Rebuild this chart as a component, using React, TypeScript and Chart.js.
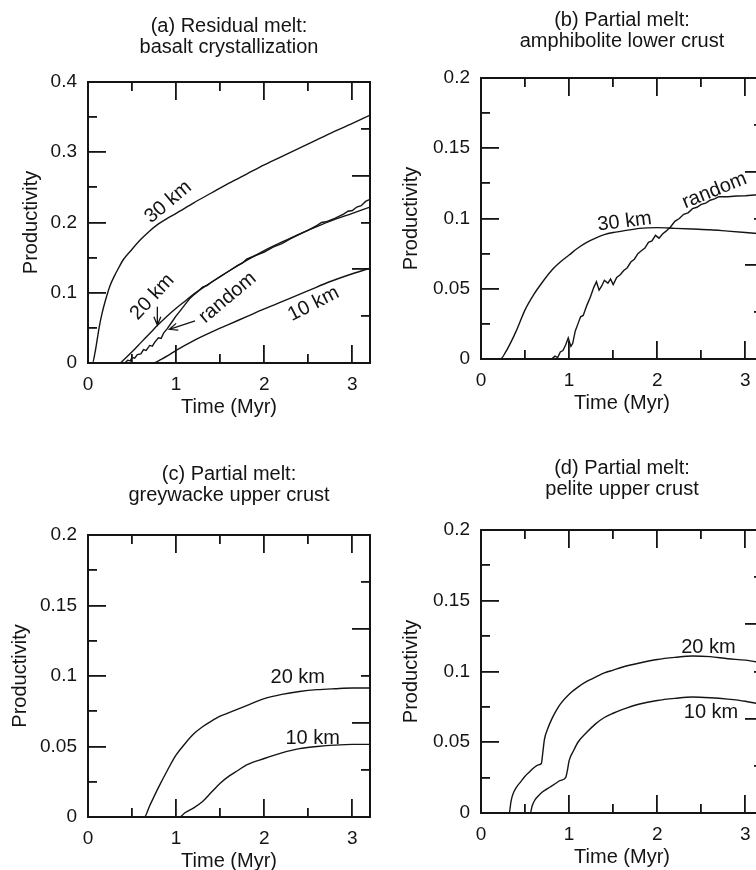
import React, { useEffect, useRef } from 'react';
import { Chart, registerables } from 'chart.js';

Chart.register(...registerables);

const FONT = '"Liberation Sans", Arial, Helvetica, sans-serif';
const INK = '#141414';

// ---------- axes ----------
const TIME_MAX = 3.2;
const TIME_MAJOR = [0, 1, 2, 3];
const TIME_MINOR = [0.5, 1.5, 2.5];
const TIME_LABELS = ['0', '1', '2', '3'];

const RIGHT_MAX = 3;
const RIGHT_MAJOR = [0, 1, 2, 3];
const RIGHT_MINOR = [0.5, 1.5, 2.5];

const PROD_A_MAX = 0.4;
const PROD_A_MAJOR = [0, 0.1, 0.2, 0.3, 0.4];
const PROD_A_LABELS = ['0', '0.1', '0.2', '0.3', '0.4'];
const PROD_A_MINOR = [0.05, 0.15, 0.25, 0.35];

const PROD_MAX = 0.2;
const PROD_MAJOR = [0, 0.05, 0.1, 0.15, 0.2];
const PROD_LABELS = ['0', '0.05', '0.1', '0.15', '0.2'];
const PROD_MINOR = [0.025, 0.075, 0.125, 0.175];

// ---------- titles ----------
const TITLE_A = ['(a) Residual melt:', 'basalt crystallization'];
const TITLE_B = ['(b) Partial melt:', 'amphibolite lower crust'];
const TITLE_C = ['(c) Partial melt:', 'greywacke upper crust'];
const TITLE_D = ['(d) Partial melt:', 'pelite upper crust'];
const X_TITLE = 'Time (Myr)';
const Y_TITLE = 'Productivity';

// ---------- data: [time (Myr), productivity] ----------
const A_30KM: [number, number][] = [
  [0, 0], [0.05, 0], [0.08, 0.015], [0.1, 0.03], [0.13, 0.053], [0.16, 0.071], [0.2, 0.09],
  [0.25, 0.11], [0.3, 0.124], [0.35, 0.136], [0.4, 0.147], [0.5, 0.162], [0.6, 0.176],
  [0.7, 0.188], [0.8, 0.198], [0.9, 0.206], [1.0, 0.213], [1.2, 0.228], [1.4, 0.242],
  [1.6, 0.256], [1.8, 0.269], [2.0, 0.282], [2.25, 0.297], [2.5, 0.312], [2.75, 0.327],
  [3.0, 0.341], [3.2, 0.353],
];
const A_20KM: [number, number][] = [
  [0, 0], [0.36, 0], [0.4, 0.004], [0.5, 0.016], [0.6, 0.029], [0.7, 0.042], [0.8, 0.055],
  [0.9, 0.067], [1.0, 0.078], [1.1, 0.088], [1.2, 0.098], [1.4, 0.115], [1.6, 0.131],
  [1.8, 0.146], [2.0, 0.16], [2.25, 0.175], [2.5, 0.189], [2.75, 0.202], [3.0, 0.213], [3.2, 0.222],
];
const A_RANDOM: [number, number][] = [
  [0, 0], [0.42, 0], [0.45, 0.004], [0.48, 0.003], [0.5, 0.008], [0.53, 0.007], [0.56, 0.012],
  [0.6, 0.013], [0.63, 0.019], [0.66, 0.018], [0.7, 0.025], [0.73, 0.024], [0.76, 0.03],
  [0.8, 0.036], [0.83, 0.035], [0.86, 0.043], [0.9, 0.049], [0.95, 0.058], [1.0, 0.067],
  [1.05, 0.075], [1.1, 0.083], [1.15, 0.091], [1.2, 0.097], [1.25, 0.102], [1.3, 0.108],
  [1.35, 0.11], [1.4, 0.115], [1.5, 0.123], [1.6, 0.131], [1.7, 0.139], [1.75, 0.142],
  [1.8, 0.148], [1.9, 0.153], [2.0, 0.158], [2.1, 0.165], [2.2, 0.17], [2.3, 0.177],
  [2.4, 0.183], [2.5, 0.189], [2.6, 0.196], [2.65, 0.2], [2.7, 0.201], [2.8, 0.206],
  [2.9, 0.212], [2.95, 0.216], [3.0, 0.217], [3.05, 0.222], [3.1, 0.224], [3.15, 0.23], [3.2, 0.233],
];
const A_10KM: [number, number][] = [
  [0, 0], [0.74, 0], [0.8, 0.003], [0.9, 0.01], [1.0, 0.018], [1.2, 0.032], [1.4, 0.044],
  [1.6, 0.055], [1.8, 0.066], [2.0, 0.077], [2.25, 0.09], [2.5, 0.103], [2.75, 0.116],
  [3.0, 0.127], [3.2, 0.135],
];

const B_30KM: [number, number][] = [
  [0, 0], [0.22, 0], [0.28, 0.005], [0.34, 0.012], [0.4, 0.02], [0.5, 0.035], [0.6, 0.046],
  [0.7, 0.055], [0.8, 0.063], [0.9, 0.069], [1.0, 0.074], [1.1, 0.079], [1.2, 0.083],
  [1.3, 0.086], [1.4, 0.0885], [1.5, 0.09], [1.6, 0.091], [1.8, 0.093], [2.0, 0.0935],
  [2.2, 0.093], [2.4, 0.0925], [2.6, 0.092], [2.8, 0.091], [3.0, 0.09], [3.2, 0.089],
];
const B_RANDOM: [number, number][] = [
  [0, 0], [0.8, 0], [0.84, 0.002], [0.87, 0.001], [0.9, 0.005], [0.93, 0.006], [0.96, 0.01],
  [0.99, 0.015], [1.02, 0.009], [1.04, 0.011], [1.07, 0.02], [1.1, 0.025], [1.13, 0.03],
  [1.16, 0.031], [1.2, 0.038], [1.24, 0.044], [1.28, 0.051], [1.31, 0.055], [1.34, 0.049],
  [1.37, 0.052], [1.4, 0.056], [1.44, 0.054], [1.47, 0.057], [1.5, 0.053], [1.54, 0.058],
  [1.58, 0.06], [1.62, 0.063], [1.66, 0.065], [1.7, 0.069], [1.74, 0.071], [1.78, 0.075],
  [1.82, 0.077], [1.86, 0.079], [1.9, 0.083], [1.94, 0.084], [1.98, 0.088], [2.02, 0.086],
  [2.06, 0.089], [2.1, 0.091], [2.15, 0.094], [2.2, 0.098], [2.25, 0.1], [2.3, 0.103],
  [2.35, 0.104], [2.4, 0.107], [2.45, 0.108], [2.5, 0.11], [2.55, 0.111], [2.6, 0.113],
  [2.65, 0.114], [2.7, 0.1155], [2.8, 0.1155], [2.9, 0.116], [3.0, 0.1162], [3.1, 0.1167], [3.2, 0.117],
];

const C_20KM: [number, number][] = [
  [0, 0], [0.64, 0], [0.7, 0.008], [0.8, 0.021], [0.9, 0.033], [1.0, 0.044], [1.1, 0.052],
  [1.2, 0.059], [1.3, 0.064], [1.4, 0.068], [1.5, 0.0715], [1.6, 0.074], [1.8, 0.079],
  [2.0, 0.084], [2.2, 0.087], [2.4, 0.089], [2.6, 0.0903], [2.8, 0.091], [3.0, 0.0915], [3.2, 0.0915],
];
const C_10KM: [number, number][] = [
  [0, 0], [1.04, 0], [1.1, 0.003], [1.2, 0.0065], [1.3, 0.011], [1.4, 0.0175], [1.5, 0.024],
  [1.6, 0.029], [1.7, 0.033], [1.8, 0.037], [2.0, 0.0415], [2.2, 0.0455], [2.4, 0.0485],
  [2.6, 0.05], [2.8, 0.051], [3.0, 0.0515], [3.2, 0.0515],
];

const D_20KM: [number, number][] = [
  [0, 0], [0.32, 0], [0.34, 0.008], [0.36, 0.013], [0.4, 0.018], [0.45, 0.022], [0.5, 0.026],
  [0.55, 0.029], [0.6, 0.032], [0.65, 0.034], [0.685, 0.035], [0.7, 0.042], [0.72, 0.052],
  [0.76, 0.06], [0.8, 0.066], [0.85, 0.072], [0.9, 0.077], [1.0, 0.084], [1.1, 0.089],
  [1.2, 0.093], [1.3, 0.096], [1.4, 0.099], [1.5, 0.101], [1.6, 0.103], [1.8, 0.106],
  [2.0, 0.1085], [2.2, 0.11], [2.4, 0.111], [2.6, 0.1105], [2.8, 0.109], [3.0, 0.108], [3.2, 0.106],
];
const D_10KM: [number, number][] = [
  [0, 0], [0.56, 0], [0.58, 0.005], [0.61, 0.009], [0.65, 0.012], [0.7, 0.015], [0.75, 0.017],
  [0.8, 0.019], [0.85, 0.021], [0.9, 0.023], [0.96, 0.025], [0.98, 0.03], [1.0, 0.037],
  [1.05, 0.044], [1.1, 0.05], [1.2, 0.057], [1.3, 0.063], [1.4, 0.0675], [1.5, 0.0705],
  [1.6, 0.073], [1.8, 0.077], [2.0, 0.0795], [2.2, 0.081], [2.4, 0.082], [2.6, 0.0815],
  [2.8, 0.0805], [3.0, 0.079], [3.2, 0.0765],
];

// ---------- curve labels (data coordinates) ----------
type Note = { text: string; t: number; p: number; angle: number };
type Arrow = { from: [number, number]; to: [number, number] };

const NOTES_A: Note[] = [
  { text: '30 km', t: 0.91, p: 0.229, angle: -40 },
  { text: '20 km', t: 0.73, p: 0.094, angle: -47 },
  { text: 'random', t: 1.585, p: 0.093, angle: -40 },
  { text: '10 km', t: 2.56, p: 0.084, angle: -27 },
];
const ARROWS_A: Arrow[] = [
  { from: [0.787, 0.08], to: [0.787, 0.054] },
  { from: [1.215, 0.06], to: [0.923, 0.048] },
];
const NOTES_B: Note[] = [
  { text: '30 km', t: 1.63, p: 0.0977, angle: -7 },
  { text: 'random', t: 2.65, p: 0.1198, angle: -22 },
];
const NOTES_C: Note[] = [
  { text: '20 km', t: 2.38, p: 0.0986, angle: 0 },
  { text: '10 km', t: 2.55, p: 0.056, angle: 0 },
];
const NOTES_D: Note[] = [
  { text: '20 km', t: 2.58, p: 0.117, angle: 0 },
  { text: '10 km', t: 2.61, p: 0.0707, angle: 0 },
];

// ---------- layout ----------
const CANVAS_W = 400;
const LEFT_W = 88;
const PLOT_W = 282;
const TOP_H = 82;
const BOTTOM_H = 70;
const TITLE_LH = 21.5;

type PanelCfg = {
  key: string;
  title: string[];
  left: number;
  top: number;
  plotH: number;
  titleGap: number;
  yTitlePad: number;
  yMax: number;
  yMajor: number[];
  yLabels: string[];
  yMinor: number[];
  series: { data: [number, number][]; smooth: boolean }[];
  notes: Note[];
  arrows: Arrow[];
};

const PANELS: PanelCfg[] = [
  {
    key: 'a', title: TITLE_A, left: 0, top: 0, plotH: 281, titleGap: 56, yTitlePad: 19.5,
    yMax: PROD_A_MAX, yMajor: PROD_A_MAJOR, yLabels: PROD_A_LABELS, yMinor: PROD_A_MINOR,
    series: [
      { data: A_30KM, smooth: true },
      { data: A_20KM, smooth: true },
      { data: A_RANDOM, smooth: false },
      { data: A_10KM, smooth: true },
    ],
    notes: NOTES_A, arrows: ARROWS_A,
  },
  {
    key: 'b', title: TITLE_B, left: 393, top: -4, plotH: 281, titleGap: 58, yTitlePad: 6.5,
    yMax: PROD_MAX, yMajor: PROD_MAJOR, yLabels: PROD_LABELS, yMinor: PROD_MINOR,
    series: [
      { data: B_30KM, smooth: true },
      { data: B_RANDOM, smooth: false },
    ],
    notes: NOTES_B, arrows: [],
  },
  {
    key: 'c', title: TITLE_C, left: 0, top: 453, plotH: 282, titleGap: 61, yTitlePad: 8,
    yMax: PROD_MAX, yMajor: PROD_MAJOR, yLabels: PROD_LABELS, yMinor: PROD_MINOR,
    series: [
      { data: C_20KM, smooth: true },
      { data: C_10KM, smooth: true },
    ],
    notes: NOTES_C, arrows: [],
  },
  {
    key: 'd', title: TITLE_D, left: 393, top: 448, plotH: 283, titleGap: 62, yTitlePad: 6.5,
    yMax: PROD_MAX, yMajor: PROD_MAJOR, yLabels: PROD_LABELS, yMinor: PROD_MINOR,
    series: [
      { data: D_20KM, smooth: true },
      { data: D_10KM, smooth: true },
    ],
    notes: NOTES_D, arrows: [],
  },
];

const notesPlugin = {
  id: 'panelNotes',
  afterDatasetsDraw(chart: any, _args: any, opts: any) {
    const { ctx } = chart;
    const x = chart.scales.x;
    const y = chart.scales.y;
    ctx.save();
    ctx.fillStyle = INK;
    ctx.strokeStyle = INK;
    ctx.lineWidth = 1.3;
    ctx.font = `20px ${FONT}`;
    ctx.textAlign = 'center';
    ctx.textBaseline = 'middle';
    for (const n of (opts.notes || []) as Note[]) {
      ctx.save();
      ctx.translate(x.getPixelForValue(n.t), y.getPixelForValue(n.p));
      ctx.rotate((n.angle * Math.PI) / 180);
      ctx.fillText(n.text, 0, 0);
      ctx.restore();
    }
    for (const a of (opts.arrows || []) as Arrow[]) {
      const x1 = x.getPixelForValue(a.from[0]);
      const y1 = y.getPixelForValue(a.from[1]);
      const x2 = x.getPixelForValue(a.to[0]);
      const y2 = y.getPixelForValue(a.to[1]);
      const ang = Math.atan2(y2 - y1, x2 - x1);
      const head = 9;
      const spread = 0.4;
      ctx.beginPath();
      ctx.moveTo(x1, y1);
      ctx.lineTo(x2, y2);
      ctx.moveTo(x2 - head * Math.cos(ang - spread), y2 - head * Math.sin(ang - spread));
      ctx.lineTo(x2, y2);
      ctx.lineTo(x2 - head * Math.cos(ang + spread), y2 - head * Math.sin(ang + spread));
      ctx.stroke();
    }
    ctx.restore();
  },
};

function markAxis(position: string, max: number, values: number[], len: number, size: number, weight: number): any {
  const vertical = position === 'left' || position === 'right';
  return {
    type: 'linear',
    position,
    min: 0,
    max,
    weight,
    afterBuildTicks: (axis: any) => {
      axis.ticks = values.map((v) => ({ value: v }));
    },
    afterFit: (axis: any) => {
      if (vertical) axis.width = size;
      else axis.height = size;
    },
    ticks: { display: false, autoSkip: false },
    grid: {
      drawOnChartArea: false,
      drawTicks: true,
      tickLength: -len,
      tickWidth: 1.8,
      tickColor: INK,
      lineWidth: 1.8,
      color: INK,
    },
    border: { display: false },
  };
}

function buildConfig(p: PanelCfg): any {
  const titlePadTop = TOP_H - p.titleGap - TITLE_LH / 2;
  const titlePadBottom = TOP_H - titlePadTop - 2 * TITLE_LH;
  const border = { display: true, color: INK, width: 2 };
  return {
    type: 'line',
    data: {
      datasets: p.series.map((s) => ({
        data: s.data.map(([t, v]) => ({ x: t, y: v })),
        borderColor: INK,
        borderWidth: 1.4,
        pointRadius: 0,
        fill: false,
        tension: 0,
        cubicInterpolationMode: s.smooth ? 'monotone' : 'default',
        xAxisID: 'x',
        yAxisID: 'y',
      })),
    },
    options: {
      responsive: false,
      animation: false,
      devicePixelRatio: 1,
      events: [],
      layout: { padding: { left: 0, right: CANVAS_W - LEFT_W - PLOT_W, top: 0, bottom: 0 } },
      plugins: {
        legend: { display: false },
        tooltip: { enabled: false },
        title: {
          display: true,
          text: p.title,
          fullSize: false,
          color: INK,
          font: { family: FONT, size: 20, weight: 'normal', lineHeight: TITLE_LH / 20 },
          padding: { top: titlePadTop, bottom: titlePadBottom },
        },
        panelNotes: { notes: p.notes, arrows: p.arrows },
      },
      scales: {
        x: {
          ...markAxis('bottom', TIME_MAX, TIME_MAJOR, 18, BOTTOM_H, 1),
          ticks: {
            display: true,
            autoSkip: false,
            maxRotation: 0,
            minRotation: 0,
            padding: 28.6,
            color: INK,
            font: { family: FONT, size: 19 },
            callback: (v: any) => TIME_LABELS[TIME_MAJOR.indexOf(Number(v))],
          },
          border,
          title: {
            display: true,
            text: X_TITLE,
            color: INK,
            font: { family: FONT, size: 20, lineHeight: 1.2 },
            padding: { top: 0, bottom: 14 },
          },
        },
        xMinor: markAxis('bottom', TIME_MAX, TIME_MINOR, 9, 0, 0),
        xTop: { ...markAxis('top', TIME_MAX, TIME_MAJOR, 18, 0, 1), border },
        xTopMinor: markAxis('top', TIME_MAX, TIME_MINOR, 9, 0, 0),
        y: {
          ...markAxis('left', p.yMax, p.yMajor, 18, LEFT_W, 1),
          ticks: {
            display: true,
            autoSkip: false,
            padding: 29,
            color: INK,
            font: { family: FONT, size: 19 },
            callback: (v: any) => p.yLabels[p.yMajor.indexOf(Number(v))],
          },
          border,
          title: {
            display: true,
            text: Y_TITLE,
            color: INK,
            font: { family: FONT, size: 20, lineHeight: 1.2 },
            padding: { top: p.yTitlePad, bottom: 0 },
          },
        },
        yMinor: markAxis('left', p.yMax, p.yMinor, 9, 0, 0),
        yRight: { ...markAxis('right', RIGHT_MAX, RIGHT_MAJOR, 18, 0, 1), border },
        yRightMinor: markAxis('right', RIGHT_MAX, RIGHT_MINOR, 9, 0, 0),
      },
    },
    plugins: [notesPlugin],
  };
}

function PanelChart({ cfg }: { cfg: PanelCfg }) {
  const ref = useRef<HTMLCanvasElement>(null);
  const h = TOP_H + cfg.plotH + BOTTOM_H;
  useEffect(() => {
    if (!ref.current) return;
    const chart = new Chart(ref.current, buildConfig(cfg));
    return () => chart.destroy();
  }, [cfg]);
  return (
    <canvas
      ref={ref}
      width={CANVAS_W}
      height={h}
      style={{ position: 'absolute', left: cfg.left, top: cfg.top, width: CANVAS_W, height: h }}
    />
  );
}

export default function App() {
  Chart.defaults.font.family = FONT;
  return (
    <div
      style={{
        position: 'absolute',
        left: 0,
        top: 0,
        width: 756,
        height: 870,
        overflow: 'hidden',
        background: '#ffffff',
      }}
    >
      {PANELS.map((p) => (
        <PanelChart key={p.key} cfg={p} />
      ))}
    </div>
  );
}
